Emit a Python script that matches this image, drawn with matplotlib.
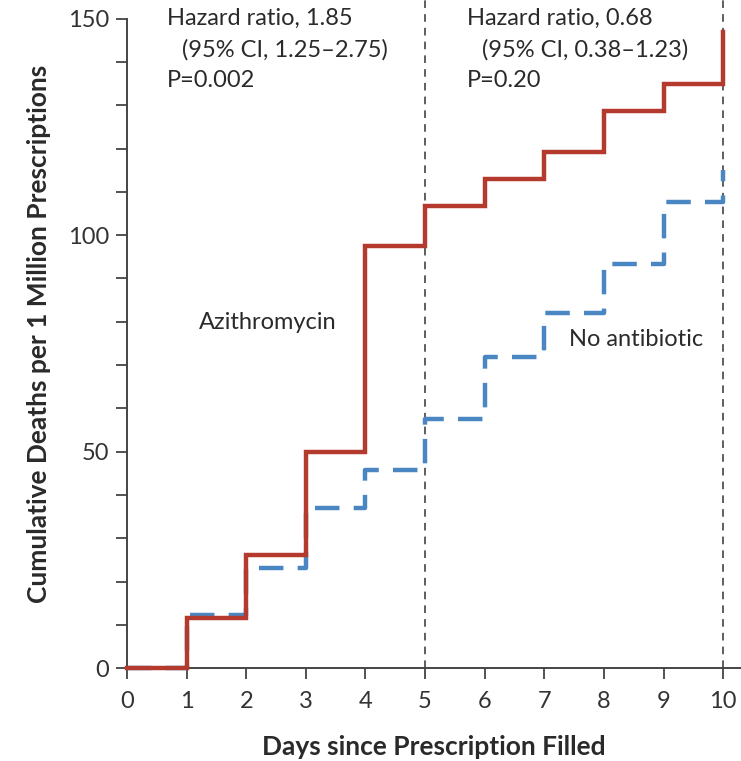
import matplotlib
matplotlib.use("Agg")
import matplotlib.pyplot as plt
from matplotlib.ticker import MultipleLocator

plt.rcParams['font.family'] = ['Lato', 'DejaVu Sans']

days = [0, 1, 2, 3, 4, 5, 6, 7, 8, 9, 10]
azithromycin = [0, 11.5, 26.2, 50.0, 97.6, 106.7, 112.9, 119.3, 128.6, 135.0, 147.0]
no_antibiotic = [0, 12.3, 23.2, 36.9, 45.8, 57.5, 71.8, 82.1, 93.3, 107.7, 115.0]
x_ticks = [0, 1, 2, 3, 4, 5, 6, 7, 8, 9, 10]
y_ticks = [0, 50, 100, 150]
period_marks = [5, 10]

W, H = 741, 761
fig = plt.figure(figsize=(W / 100, H / 100), dpi=100)
ax = fig.add_axes([127 / W, 92.7 / H, (W - 127) / W, 668.3 / H])

red = '#b53a2e'
blue = '#4a87c2'
txt = '#2a2a2a'

for xv in period_marks:
    ax.axvline(xv, color='#333333', lw=1.1, ls=(0, (5, 4)), zorder=1)

ax.step(days, no_antibiotic, where='post', color=blue, lw=3.2,
        ls=(0, (5.5, 3.2)), zorder=2, clip_on=False)
ax.step(days, azithromycin, where='post', color=red, lw=3.2,
        zorder=3, clip_on=False, solid_joinstyle='miter')

ax.set_xlim(0, 10.3)
ax.set_ylim(0, 154.3)
ax.set_xticks(x_ticks)
ax.set_yticks(y_ticks)
ax.yaxis.set_minor_locator(MultipleLocator(10))

for s in ['top', 'right']:
    ax.spines[s].set_visible(False)
ax.spines['left'].set_bounds(0, 150)
for s in ['left', 'bottom']:
    ax.spines[s].set_color('#444444')
    ax.spines[s].set_linewidth(1.4)

ax.tick_params(axis='both', which='both', direction='out', length=8,
               width=1.3, color='#444444', labelsize=17, labelcolor='#333333')
ax.tick_params(axis='x', pad=8)
ax.tick_params(axis='y', pad=5)

ax.set_xlabel('Days since Prescription Filled', fontsize=19, fontweight='bold',
              color=txt, labelpad=17)
ax.set_ylabel('Cumulative Deaths per 1 Million Prescriptions', fontsize=19,
              fontweight='bold', color=txt, labelpad=12)

fs = 17
ax.text(0.67, 150.1, 'Hazard ratio, 1.85', fontsize=fs, color=txt, va='center')
ax.text(0.92, 142.9, '(95% CI, 1.25\u20132.75)', fontsize=fs, color=txt, va='center')
ax.text(0.67, 135.8, 'P=0.002', fontsize=fs, color=txt, va='center')
ax.text(5.70, 150.1, 'Hazard ratio, 0.68', fontsize=fs, color=txt, va='center')
ax.text(5.96, 142.9, '(95% CI, 0.38\u20131.23)', fontsize=fs, color=txt, va='center')
ax.text(5.70, 135.8, 'P=0.20', fontsize=fs, color=txt, va='center')

ax.text(1.21, 79.9, 'Azithromycin', fontsize=fs, color=txt, va='center')
ax.text(7.42, 75.8, 'No antibiotic', fontsize=fs, color=txt, va='center')

fig.savefig('out.png', dpi=100)
